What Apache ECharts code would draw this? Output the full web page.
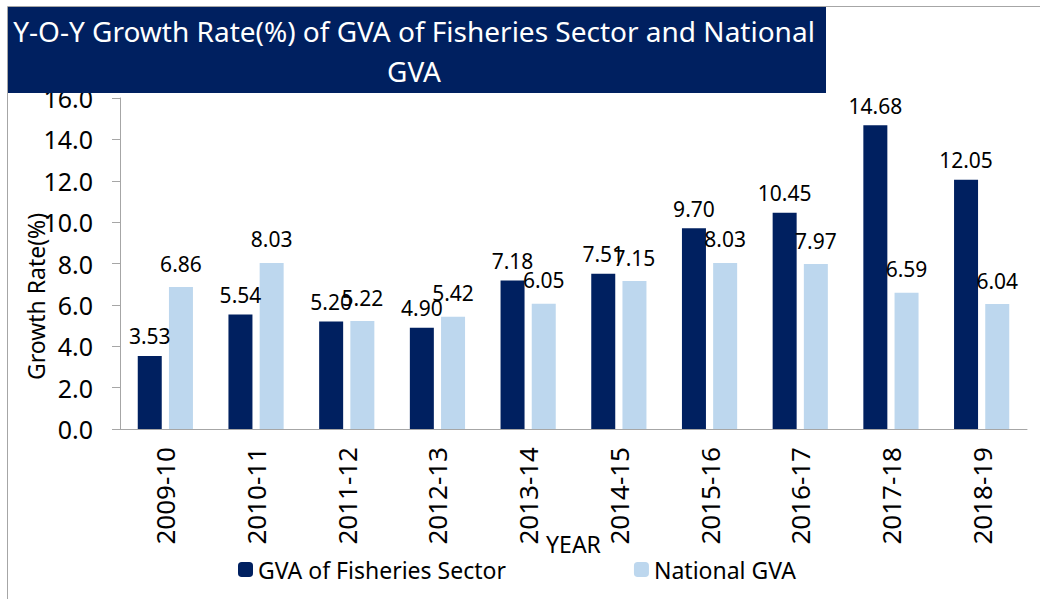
<!DOCTYPE html>
<html>
<head>
<meta charset="utf-8">
<title>GVA growth</title>
<script src="https://cdn.jsdelivr.net/npm/echarts@6/dist/echarts.min.js"></script>
<style>
  html, body { margin: 0; padding: 0; background: #fff; }
  #box1 { width: 1040px; height: 599px; }
</style>
</head>
<body>
<div id="box1"></div>
<script>
// 年份和两组增长率
var years = ['2009-10', '2010-11', '2011-12', '2012-13', '2013-14', '2014-15', '2015-16', '2016-17', '2017-18', '2018-19'];
var fisheries = [3.53, 5.54, 5.20, 4.90, 7.18, 7.51, 9.70, 10.45, 14.68, 12.05];
var national = [6.86, 8.03, 5.22, 5.42, 6.05, 7.15, 8.03, 7.97, 6.59, 6.04];
var yTicks = [0, 2, 4, 6, 8, 10, 12, 14, 16];

var font = 'Noto Sans';
var chart = echarts.init(document.getElementById('box1'), null, { renderer: 'svg' });
var option = {
  animation: false,
  textStyle: { fontFamily: font },
  graphic: [
    { type: 'line', shape: { x1: 7.5, y1: 6.5, x2: 1040, y2: 6.5 }, style: { stroke: '#a6a6a6', lineWidth: 1 } },
    { type: 'line', shape: { x1: 7.5, y1: 6.5, x2: 7.5, y2: 599 }, style: { stroke: '#a6a6a6', lineWidth: 1 } },
    { type: 'rect', shape: { x: 8, y: 7, width: 818, height: 86 }, style: { fill: '#002060' }, z: 10 }
  ],
  title: {
    text: 'Y-O-Y Growth Rate(%) of GVA of Fisheries Sector and National\nGVA',
    left: 414,
    top: 11,
    padding: 0,
    textAlign: 'center',
    z: 20,
    textStyle: { color: '#fff', fontFamily: font, fontWeight: 'normal', fontSize: 28, lineHeight: 40, align: 'center' }
  },
  legend: {
    left: 233,
    top: 553,
    itemWidth: 15,
    itemHeight: 15,
    itemGap: 128,
    textStyle: { fontFamily: font, fontSize: 23, color: '#000' },
    data: ['GVA of Fisheries Sector', 'National GVA']
  },
  grid: { left: 120, right: 13, top: 98, bottom: 170 },
  xAxis: {
    type: 'category',
    data: years,
    name: 'YEAR',
    nameLocation: 'middle',
    nameGap: 103,
    nameMoveOverlap: false,
    nameTextStyle: { fontFamily: font, fontSize: 23, color: '#000' },
    axisLine: { lineStyle: { color: '#a6a6a6' } },
    axisTick: { show: false },
    axisLabel: { rotate: 90, fontFamily: font, fontSize: 26, color: '#000', margin: 18 }
  },
  yAxis: {
    type: 'value',
    min: 0,
    max: yTicks[yTicks.length - 1],
    interval: 2,
    name: 'Growth Rate(%)',
    nameLocation: 'middle',
    nameGap: 73,
    nameMoveOverlap: false,
    nameTextStyle: { fontFamily: font, fontSize: 23, color: '#000', padding: [0, 66, 0, 0] },
    axisLine: { show: true, lineStyle: { color: '#a6a6a6' } },
    axisTick: { show: true, length: 8, lineStyle: { color: '#a6a6a6' } },
    splitLine: { show: false },
    axisLabel: {
      fontFamily: font, fontSize: 25, color: '#000', margin: 27,
      formatter: function (v) { return v.toFixed(1); }
    }
  },
  series: [
    {
      name: 'GVA of Fisheries Sector',
      type: 'bar',
      data: fisheries,
      barWidth: 24,
      barGap: '30%',
      itemStyle: { color: '#002060' },
      label: {
        show: true, position: 'top', distance: 9,
        fontFamily: font, fontSize: 21, color: '#000',
        formatter: function (p) { return p.value.toFixed(2); }
      }
    },
    {
      name: 'National GVA',
      type: 'bar',
      data: national,
      barWidth: 24,
      itemStyle: { color: '#bdd7ee' },
      label: {
        show: true, position: 'top', distance: 13,
        fontFamily: font, fontSize: 21, color: '#000',
        formatter: function (p) { return p.value.toFixed(2); }
      }
    }
  ]
};
chart.setOption(option);
</script>
</body>
</html>
